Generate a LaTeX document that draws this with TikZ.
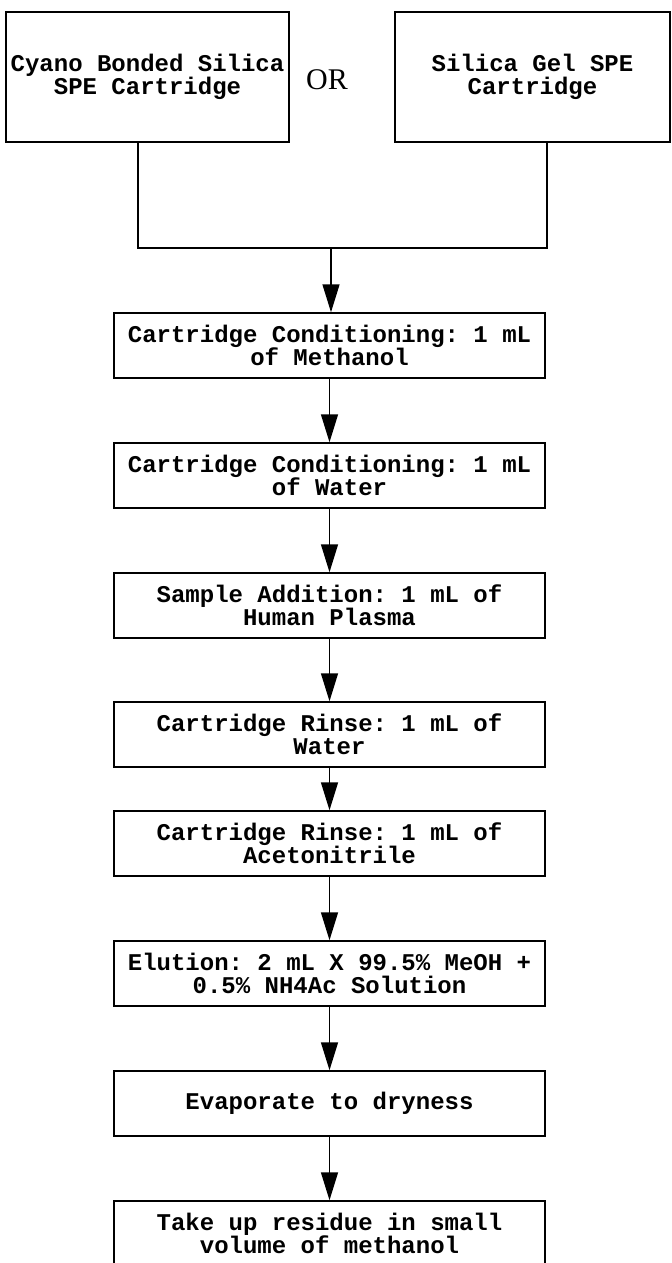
\documentclass[tikz,border=0pt]{standalone}
\usepackage{fontspec}
\setmainfont{Liberation Serif}
\setmonofont{Liberation Mono}
\usetikzlibrary{arrows.meta}

\newcommand\stagefont{\ttfamily\bfseries\fontsize{12}{11.5}\selectfont\lineskiplimit=-20pt\relax}

\begin{document}
\begin{tikzpicture}[
    x=0.5pt, y=-0.5pt,
    stage/.style={draw=black, line width=0.75pt, minimum width=215.5pt, minimum height=32.5pt,
                  font=\stagefont, align=center, inner sep=0pt},
    cart/.style ={stage, minimum height=65pt},
    link/.style ={line width=0.75pt},
    flow/.style ={link, -{Triangle[length=14pt, width=8.5pt]}},
  ]
  \useasboundingbox (0,0) rectangle (671,1263);

  % ---------------- the two cartridges -------------------------------------
  \node[cart, minimum width=141.5pt] (cyano)  at (147.5,77) {Cyano Bonded Silica\\SPE Cartridge};
  \node[cart, minimum width=137.5pt] (silica) at (532.5,77) {Silica Gel SPE\\Cartridge};
  \node[font=\fontsize{15}{17}\selectfont, inner sep=0pt] (orlabel) at (327,80) {OR};

  % ---------------- where the two branches meet ----------------------------
  \coordinate (jL) at (138,248);
  \coordinate (jR) at (547,248);
  \coordinate (jM) at (331,248);
  \draw[link] (cyano.south -| jL) -- (jL) -- (jR) -- (silica.south -| jR);

  % ---------------- the procedure ------------------------------------------
  \node[stage] (condmeoh)   at (329.5,345.5)  {Cartridge Conditioning: 1 mL\\of Methanol};
  \node[stage] (condwater)  at (329.5,475.5)  {Cartridge Conditioning: 1 mL\\of Water};
  \node[stage] (sample)     at (329.5,605.5)  {Sample Addition: 1 mL of\\Human Plasma};
  \node[stage] (rinsewater) at (329.5,734.5)  {Cartridge Rinse: 1 mL of\\Water};
  \node[stage] (rinseacn)   at (329.5,843.5)  {Cartridge Rinse: 1 mL of\\Acetonitrile};
  \node[stage] (elution)    at (329.5,973.5)  {Elution: 2 mL X 99.5\% MeOH +\\0.5\% NH4Ac Solution};
  \node[stage] (evap)       at (329.5,1103.5) {Evaporate to dryness};
  \node[stage] (takeup)     at (329.5,1233.5) {Take up residue in small\\volume of methanol};

  % ---------------- arrows -------------------------------------------------
  \draw[flow] (jM) -- (jM |- condmeoh.north);
  \foreach \a/\b in {condmeoh/condwater, condwater/sample, sample/rinsewater,
                     rinsewater/rinseacn, rinseacn/elution, elution/evap, evap/takeup}
    \draw[flow] (\a) -- (\b);

\end{tikzpicture}
\end{document}
